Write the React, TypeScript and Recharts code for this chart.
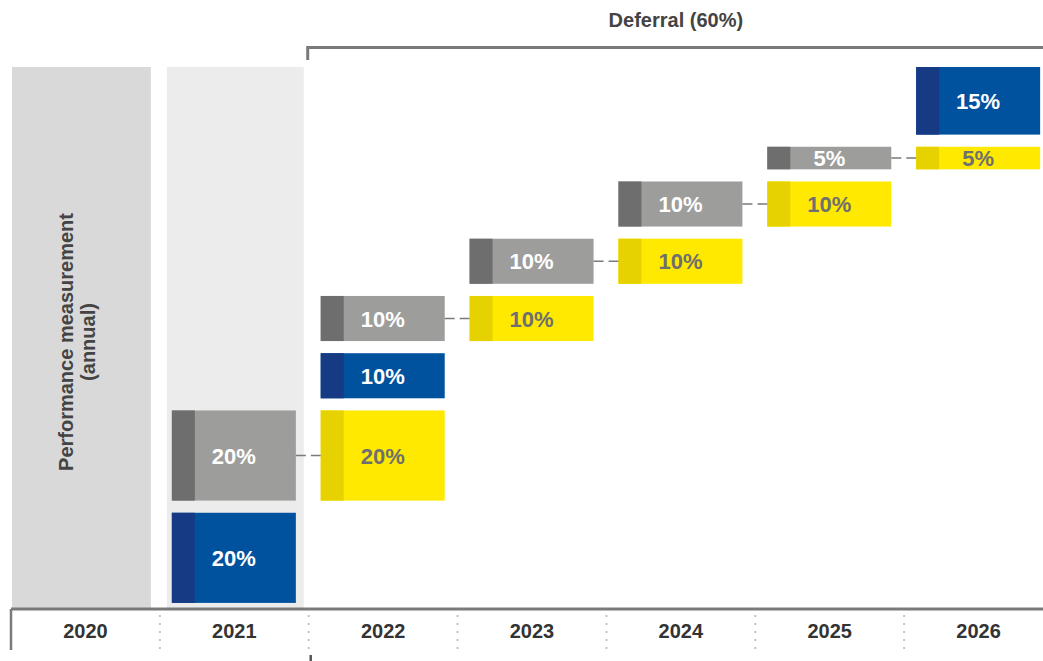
import React from 'react';
import { ComposedChart, Bar, XAxis, YAxis, ReferenceArea } from 'recharts';

// ---------- data ----------
const years = ['2020', '2021', '2022', '2023', '2024', '2025', '2026'];
// tranches listed bottom-to-top
const trancheYears = ['2021', '2021', '2022', '2022', '2023', '2024', '2025', '2026'];
const tranchePercents = [20, 20, 10, 10, 10, 10, 5, 15];
const trancheKinds = ['cash', 'share', 'cash', 'share', 'share', 'share', 'share', 'cash'];
const deferralTitle = 'Deferral (60%)';
const measurementLines = ['Performance measurement', '(annual)'];

// ---------- layout constants ----------
const CHART_W = 1053;
const CHART_H = 661;
const MARGIN = { top: 67, right: 0, bottom: 0, left: 11 };
const BAND = (CHART_W - MARGIN.left - MARGIN.right) / years.length;
const BAR = 124;
const STRIP = 23;
const BASE = 1.35;
const GAP = 2.7;
const Y_MAX = BASE + tranchePercents.reduce((a, b) => a + b, 0) + (tranchePercents.length - 1) * GAP;
const FONT = '"Liberation Sans", Arial, Helvetica, sans-serif';
const AXIS = '#7a7a7a';

const COLORS: Record<string, { main: string; dark: string; text: string }> = {
  cash: { main: '#00529F', dark: '#163B84', text: '#ffffff' },
  share: { main: '#9D9D9C', dark: '#6E6E6E', text: '#ffffff' },
  release: { main: '#FFE900', dark: '#E6D200', text: '#6F6F6F' },
};

// ---------- build stacked rows ----------
type Block = { kind: string; value: number; bottom: number };
const byYear: Record<string, Block[]> = {};
years.forEach((y) => (byYear[y] = []));
{
  let cum = BASE;
  trancheYears.forEach((yr, i) => {
    const v = tranchePercents[i];
    byYear[yr].push({ kind: trancheKinds[i], value: v, bottom: cum });
    if (trancheKinds[i] === 'share') {
      const next = years[years.indexOf(yr) + 1];
      if (next) byYear[next].push({ kind: 'release', value: v, bottom: cum });
    }
    cum += v + GAP;
  });
}
const MAX_BLOCKS = Math.max(...years.map((y) => byYear[y].length));
const chartData = years.map((yr) => {
  const row: any = { year: yr };
  let top = 0;
  const blocks = [...byYear[yr]].sort((a, b) => a.bottom - b.bottom);
  for (let k = 0; k < MAX_BLOCKS; k++) {
    const b = blocks[k];
    if (b) {
      row[`sp${k}`] = b.bottom - top;
      row[`bl${k}`] = b.value;
      row[`kind${k}`] = b.kind;
      top = b.bottom + b.value;
    } else {
      row[`sp${k}`] = 0;
      row[`bl${k}`] = 0;
    }
  }
  return row;
});

// ---------- shapes ----------
const makeBlockShape = (k: number) => (props: any) => {
  const { x, y, width, height, payload } = props;
  const kind = payload?.[`kind${k}`];
  const value = payload?.[`bl${k}`];
  if (!kind || !value || !height) return <g />;
  const c = COLORS[kind];
  const cy = y + height / 2;
  return (
    <g>
      <rect x={x} y={y} width={width} height={height} fill={c.main} />
      <rect x={x} y={y} width={STRIP} height={height} fill={c.dark} />
      {kind === 'share' && (
        <line x1={x + width} x2={x + BAND} y1={cy} y2={cy} stroke="#7a7a7a" strokeWidth={1.5} strokeDasharray="10 5" />
      )}
      <text x={x + width / 2} y={cy + 8} textAnchor="middle" fill={c.text} fontSize={22} fontWeight="bold" fontFamily={FONT}>
        {value}%
      </text>
    </g>
  );
};

const emptyShape = () => <g />;

const YearTick = (props: any) => {
  const { x, y, payload, index } = props;
  const half = payload?.offset || BAND / 2;
  const bs = x - half;
  return (
    <g>
      {index === 0 ? (
        <line x1={bs} x2={bs} y1={y} y2={y + 41} stroke={AXIS} strokeWidth={2.5} />
      ) : (
        <line x1={bs} x2={bs} y1={y + 6} y2={y + 41} stroke="#c4c4c4" strokeWidth={2} strokeDasharray="2 6" />
      )}
      <text x={x} y={y + 29} textAnchor="middle" fill="#333" fontSize={20} fontWeight="bold" fontFamily={FONT}>
        {payload.value}
      </text>
      {index === 2 && (
        <g>
          <path d={`M${bs - 1},60 V47.5 H${bs + 10 * half + 20}`} fill="none" stroke={AXIS} strokeWidth={3} />
          <text x={bs + 5 * half - 5} y={27} textAnchor="middle" fill="#444" fontSize={20} fontWeight="bold" fontFamily={FONT}>
            {deferralTitle}
          </text>
          <line x1={bs + 2} x2={bs + 2} y1={y + 46} y2={y + 54} stroke="#555" strokeWidth={2.5} />
        </g>
      )}
    </g>
  );
};

const MeasurementArea = (p: any) => {
  const cx = p.x + p.width / 2;
  const cy = 342;
  return (
    <g>
      <rect x={p.x + 1} y={p.y} width={p.width - 10} height={p.height - 1} fill="#D9D9D9" />
      <text transform={`translate(${cx - 4},${cy}) rotate(-90)`} textAnchor="middle" fill="#444" fontSize={20} fontWeight="bold" fontFamily={FONT}>
        <tspan x={0} y={-8}>{measurementLines[0]}</tspan>
        <tspan x={0} y={14}>{measurementLines[1]}</tspan>
      </text>
    </g>
  );
};

const LightArea = (p: any) => (
  <rect x={p.x + 7} y={p.y} width={p.width - 12} height={p.height - 1} fill="#ECECEC" />
);

export default function App() {
  const bars: React.ReactNode[] = [];
  for (let k = 0; k < MAX_BLOCKS; k++) {
    bars.push(
      <Bar key={`sp${k}`} dataKey={`sp${k}`} stackId="s" fill="none" shape={emptyShape} isAnimationActive={false} />
    );
    bars.push(
      <Bar key={`bl${k}`} dataKey={`bl${k}`} stackId="s" shape={makeBlockShape(k)} isAnimationActive={false} />
    );
  }
  return (
    <div style={{ position: 'absolute', left: 0, top: 0, width: 1043, height: 661, overflow: 'hidden', background: '#fff' }}>
      <ComposedChart width={CHART_W} height={CHART_H} data={chartData} margin={MARGIN} barSize={BAR}>
        <ReferenceArea x1="2020" x2="2020" shape={MeasurementArea} ifOverflow="visible" />
        <ReferenceArea x1="2021" x2="2021" shape={LightArea} ifOverflow="visible" />
        <XAxis
          dataKey="year"
          type="category"
          height={52}
          interval={0}
          tickLine={false}
          tickSize={0}
          tickMargin={0}
          axisLine={{ stroke: AXIS, strokeWidth: 3 }}
          tick={YearTick}
        />
        <YAxis
          type="number"
          domain={[0, Y_MAX]}
          allowDataOverflow
          width={0}
          tick={false}
          tickLine={false}
          axisLine={{ stroke: AXIS, strokeWidth: 2.5 }}
        />
        {bars}
      </ComposedChart>
    </div>
  );
}
